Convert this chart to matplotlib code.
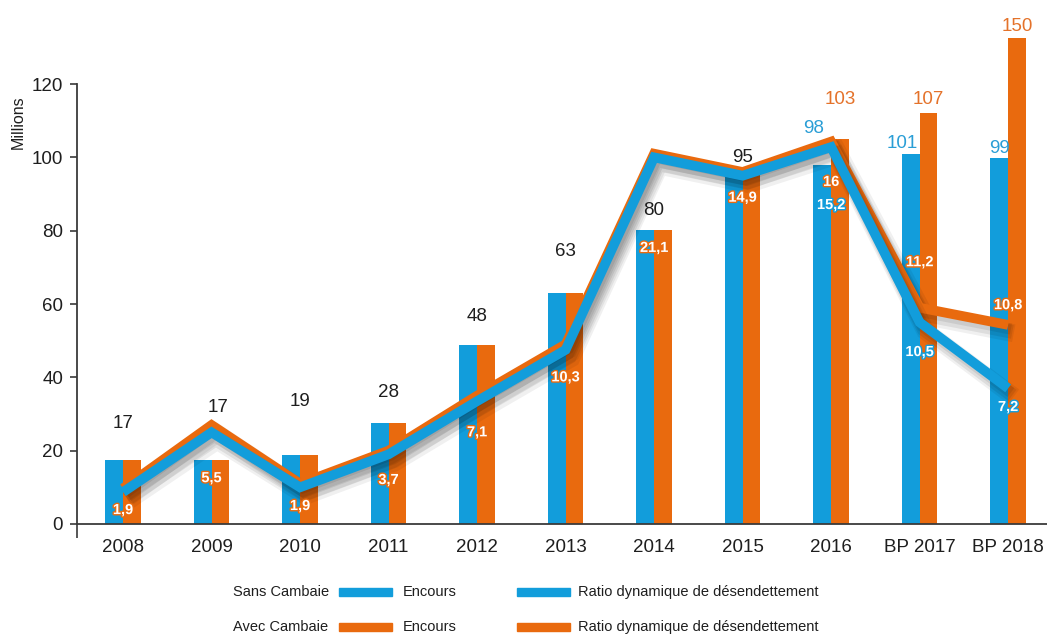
import matplotlib
matplotlib.use("Agg")
import matplotlib.pyplot as plt
import matplotlib.patheffects as pe
from matplotlib.patches import Rectangle
import numpy as np

plt.rcParams['font.family'] = ['Liberation Sans', 'DejaVu Sans']

# ---------------- data ----------------
annees = ["2008", "2009", "2010", "2011", "2012", "2013", "2014", "2015",
          "2016", "BP 2017", "BP 2018"]
# Encours (millions) - printed labels
encours_sans = [17, 17, 19, 28, 48, 63, 80, 95, 98, 101, 99]
encours_avec = [17, 17, 19, 28, 48, 63, 80, 95, 103, 107, 150]
# bar heights as drawn in the picture (left axis, millions)
barre_sans = [17.5, 17.5, 18.8, 27.5, 48.8, 63, 80.2, 95.7, 98, 101, 99.8]
barre_avec = [17.5, 17.5, 18.8, 27.5, 48.8, 63, 80.2, 95.7, 105, 112, 132.5]
# Ratio dynamique de désendettement - printed labels
ratio_sans = [1.9, 5.5, 1.9, 3.7, 7.1, 10.3, 21.1, 14.9, 15.2, 10.5, 7.2]
ratio_avec = [1.9, 5.5, 1.9, 3.7, 7.1, 10.3, 21.1, 14.9, 16, 11.2, 10.8]
# ratio lines as drawn (left-axis units)
ligne_sans = [8.7, 25, 10, 19, 33.5, 47.5, 100, 95, 102.8, 55, 37]
ligne_avec = [9.7, 27, 11, 20, 35, 49, 101, 96, 104.3, 59, 54.3]

# ---------------- style ----------------
BLEU = "#129DDB"
ORANGE = "#E96A0E"
BLEU_TXT = "#2A9ED6"
ORANGE_TXT = "#E4722A"
AXE = "#3A3A3A"
TXT = "#1E1E1E"

W, H = 1047, 634
fig = plt.figure(figsize=(W / 100, H / 100), dpi=100)
ax = fig.add_axes([77 / W, 1 - 524 / H, 971 / W, 513.3 / H])

x = np.arange(len(annees))
bw = 0.2
ax.bar(x - bw / 2, barre_sans, width=bw, color=BLEU, zorder=2)
ax.bar(x + bw / 2, barre_avec, width=bw, color=ORANGE, zorder=2)

shadow = [pe.SimpleLineShadow(offset=(4, -6), shadow_color="#000000", alpha=0.06, linewidth=13),
          pe.SimpleLineShadow(offset=(3, -5), shadow_color="#000000", alpha=0.08, linewidth=10),
          pe.SimpleLineShadow(offset=(2, -3), shadow_color="#000000", alpha=0.08, linewidth=8),
          pe.Normal()]
ax.plot(x, ligne_avec, color=ORANGE, lw=7, solid_joinstyle="miter",
        solid_capstyle="butt", zorder=3, path_effects=shadow)
ax.plot(x, ligne_sans, color=BLEU, lw=7, solid_joinstyle="miter",
        solid_capstyle="butt", zorder=4, path_effects=shadow)

# bar value labels
dec_noir = [10, 14.4, 14.5, 8.5, 7.7, 11.2, 5.4, 4.3]
dec_bleu = [10, 2.9, 2.7]
dec_orange = [10.9, 3.9, 3.3]
for i in range(len(annees)):
    if i < 8:
        ax.text(x[i] + (0.07 if i == 1 else 0.0), barre_sans[i] + dec_noir[i],
                str(encours_sans[i]), ha="center", va="center",
                fontsize=13.5, color=TXT, zorder=6)
    else:
        j = i - 8
        ax.text(x[i] - bw / 2 - (0.1 if j < 2 else 0.0), barre_sans[i] + dec_bleu[j],
                str(encours_sans[i]), ha="center", va="center",
                fontsize=13.5, color=BLEU_TXT, zorder=6)
        ax.text(x[i] + bw / 2, barre_avec[i] + dec_orange[j],
                str(encours_avec[i]), ha="center", va="center",
                fontsize=13.5, color=ORANGE_TXT, zorder=6)

# ratio labels
def fmt(v):
    return ("%g" % v).replace(".", ",")

dec_r_avec = [-5.9, -14.5, -6.1, -8, -10, -9, -25.7, -7, -11, 12.4, 5.4]
dec_r_sans = [-15.8, -8.1, -5.1]
for i in range(len(annees)):
    ax.text(x[i], ligne_avec[i] + dec_r_avec[i], fmt(ratio_avec[i]),
            ha="center", va="center", fontsize=10.5, fontweight="bold",
            color="white", zorder=7,
            path_effects=[pe.withStroke(linewidth=2.0, foreground=ORANGE)])
    if i >= 8:
        ax.text(x[i], ligne_sans[i] + dec_r_sans[i - 8], fmt(ratio_sans[i]),
                ha="center", va="center", fontsize=10.5, fontweight="bold",
                color="white", zorder=7,
                path_effects=[pe.withStroke(linewidth=2.0, foreground=BLEU)])

# axes
ax.set_xlim(-0.52, 10.45)
ax.set_ylim(0, 140)
ax.set_yticks(np.arange(0, 121, 20))
ax.set_xticks(x)
ax.set_xticklabels(annees)
for s in ["top", "right"]:
    ax.spines[s].set_visible(False)
ax.spines["left"].set_bounds(0, 120)
ax.spines["left"].set_color(AXE)
ax.spines["bottom"].set_color(AXE)
ax.spines["left"].set_linewidth(1.3)
ax.spines["bottom"].set_linewidth(1.3)
ax.tick_params(axis="y", length=5, width=1.2, color=AXE, pad=5,
               labelsize=13.5, labelcolor=TXT)
ax.tick_params(axis="x", which="major", length=0, pad=11,
               labelsize=13.5, labelcolor=TXT)
ax.set_xticks([-0.52], minor=True)
ax.tick_params(axis="x", which="minor", length=10, width=1.2, color=AXE)
ax.patch.set_alpha(0)

fig.text(18 / W, 1 - 122 / H, "Millions", rotation=90, ha="center",
         va="center", fontsize=11.5, color=TXT)

# legend (drawn manually)
def px(xp, yp):
    return xp / W, 1 - yp / H

rows = [(592, "Sans Cambaie", BLEU), (627, "Avec Cambaie", ORANGE)]
for yp, lab, col in rows:
    fig.text(*px(233, yp), lab, ha="left", va="center", fontsize=10.5, color=TXT)
    fig.patches.append(Rectangle(px(339, yp + 4), 53 / W, 8 / H,
                                 transform=fig.transFigure, color=col))
    fig.text(*px(403, yp), "Encours", ha="left", va="center", fontsize=10.5, color=TXT)
    fig.patches.append(Rectangle(px(517, yp + 4), 53 / W, 8 / H,
                                 transform=fig.transFigure, color=col))
    fig.text(*px(578, yp), "Ratio dynamique de désendettement", ha="left",
             va="center", fontsize=10.5, color=TXT)

fig.savefig("out.png", dpi=100)
